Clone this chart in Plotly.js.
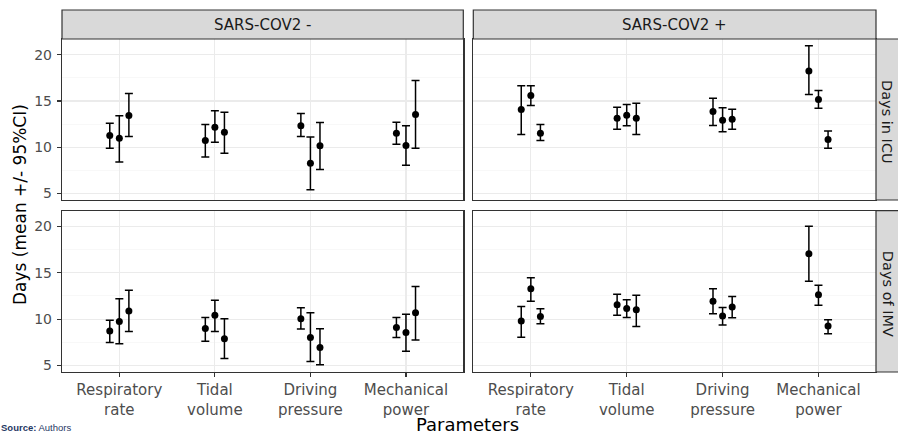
<!DOCTYPE html>
<html><head><meta charset="utf-8">
<script src="https://cdn.plot.ly/plotly-3.0.1.min.js"></script>
<style>html,body{margin:0;padding:0;background:#fff;}#chart{width:898px;height:434px;}</style>
</head><body><div id="chart"></div>
<script>
// ---- data ----
const categories = ["Respiratory rate", "Tidal volume", "Driving pressure", "Mechanical power"];
const tickLabels = ["Respiratory<br>rate", "Tidal<br>volume", "Driving<br>pressure", "Mechanical<br>power"];
const columnLabels = ["SARS-COV2 -", "SARS-COV2 +"];
const rowLabels = ["Days in ICU", "Days of IMV"];
const yTicks = [5, 10, 15, 20];

// each row = one category, each entry = one of the three dodged groups
const icuNegMean  = [[11.27, 10.98, 13.43], [10.72, 12.16, 11.62], [12.32, 8.27, 10.15], [11.52, 10.18, 13.54]];
const icuNegLower = [[9.90, 8.42, 11.16], [8.96, 10.54, 9.35], [11.16, 5.42, 7.59], [10.33, 8.05, 9.89]];
const icuNegUpper = [[12.60, 13.40, 15.81], [12.46, 13.94, 13.79], [13.65, 11.12, 12.67], [12.71, 12.32, 17.22]];

const icuPosMean  = [[14.07, 15.60, 11.52], [13.14, 13.46, 13.14], [13.86, 12.92, 13.03], [18.23, 15.16, 10.83]];
const icuPosLower = [[11.37, 14.51, 10.72], [11.95, 12.32, 11.37], [12.35, 11.67, 11.95], [15.70, 14.22, 9.89]];
const icuPosUpper = [[16.64, 16.64, 12.46], [14.33, 14.62, 14.76], [15.30, 14.26, 14.11], [20.97, 16.14, 11.77]];

const imvNegMean  = [[8.71, 9.75, 10.87], [9.00, 10.43, 7.88], [10.04, 8.03, 6.95], [9.10, 8.57, 10.69]];
const imvNegLower = [[7.49, 7.35, 8.67], [7.63, 8.67, 5.76], [8.93, 5.44, 5.08], [8.03, 6.55, 7.74]];
const imvNegUpper = [[9.89, 12.20, 13.13], [10.18, 12.05, 10.04], [11.23, 10.69, 8.96], [10.18, 10.54, 13.53]];

const imvPosMean  = [[9.79, 13.28, 10.29], [11.55, 11.15, 11.01], [11.94, 10.33, 11.30], [17.05, 12.63, 9.25]];
const imvPosLower = [[8.06, 11.94, 9.50], [10.43, 10.18, 9.21], [10.58, 9.36, 10.15], [14.10, 11.51, 8.42]];
const imvPosUpper = [[11.37, 14.47, 11.12], [12.70, 12.09, 12.59], [13.28, 11.26, 12.45], [20.03, 13.67, 9.94]];

// ---- layout helpers ----
const W = 898, H = 434;
const px = v => v / W;
const py = v => 1 - v / H;
const colX = [[62, 463.3], [473.3, 876]];
const rowY = [[39, 200], [210.7, 372]];
const dodge = [-0.1, 0, 0.1];
const FONT = "DejaVu Sans";

const panels = [
  {row: 0, col: 0, mean: icuNegMean, lo: icuNegLower, hi: icuNegUpper},
  {row: 0, col: 1, mean: icuPosMean, lo: icuPosLower, hi: icuPosUpper},
  {row: 1, col: 0, mean: imvNegMean, lo: imvNegLower, hi: imvNegUpper},
  {row: 1, col: 1, mean: imvPosMean, lo: imvPosLower, hi: imvPosUpper}
];

const traces = [];
const layout = {
  width: W, height: H, autosize: false,
  margin: {l: 0, r: 0, t: 0, b: 0},
  paper_bgcolor: "#fff", plot_bgcolor: "#fff",
  showlegend: false,
  font: {family: FONT},
  shapes: [], annotations: []
};

panels.forEach((p, k) => {
  const n = k + 1;
  const xa = n === 1 ? "x" : "x" + n;
  const ya = n === 1 ? "y" : "y" + n;
  for (let g = 0; g < 3; g++) {
    traces.push({
      type: "scatter", mode: "markers",
      x: categories.map((c, i) => i + 1 + dodge[g]),
      y: p.mean.map(r => r[g]),
      error_y: {
        type: "data", symmetric: false,
        array: p.mean.map((r, i) => p.hi[i][g] - r[g]),
        arrayminus: p.mean.map((r, i) => r[g] - p.lo[i][g]),
        color: "#000", thickness: 1.5, width: 4
      },
      marker: {color: "#000", size: 7},
      xaxis: xa, yaxis: ya, hoverinfo: "skip", showlegend: false
    });
  }
  const bottom = p.row === 1, left = p.col === 0;
  layout["xaxis" + (n === 1 ? "" : n)] = {
    domain: [px(colX[p.col][0]), px(colX[p.col][1])],
    anchor: ya, range: [0.4, 4.6],
    tickmode: "array", tickvals: categories.map((c, i) => i + 1), ticktext: tickLabels,
    showticklabels: bottom, ticks: bottom ? "outside" : "", ticklen: 4, tickwidth: 1.1, tickcolor: "#333",
    tickfont: {family: FONT, size: 15, color: "#4D4D4D"},
    showgrid: true, gridcolor: "#EBEBEB", gridwidth: 1.1, zeroline: false,
    showline: true, mirror: true, linecolor: "#333", linewidth: 1.2, fixedrange: true
  };
  layout["yaxis" + (n === 1 ? "" : n)] = {
    domain: [py(rowY[p.row][1]), py(rowY[p.row][0])],
    anchor: xa, range: [4.3, 21.7],
    tickmode: "array", tickvals: yTicks,
    minor: {tickmode: "linear", tick0: 2.5, dtick: 2.5, showgrid: true, gridcolor: "#F3F3F3", gridwidth: 0.6, ticks: ""},
    showticklabels: left, ticks: left ? "outside" : "", ticklen: 4, tickwidth: 1.1, tickcolor: "#333",
    ticklabelstandoff: 2,
    tickfont: {family: FONT, size: 14, color: "#4D4D4D"},
    showgrid: true, gridcolor: "#EBEBEB", gridwidth: 1.1, zeroline: false,
    showline: true, mirror: true, linecolor: "#333", linewidth: 1.2, fixedrange: true
  };
});

// facet strips
columnLabels.forEach((lab, c) => {
  layout.shapes.push({type: "rect", xref: "paper", yref: "paper",
    x0: px(colX[c][0]), x1: px(colX[c][1]), y0: py(39), y1: py(10),
    fillcolor: "#D9D9D9", line: {color: "#333", width: 1.2}});
  layout.annotations.push({xref: "paper", yref: "paper", x: px((colX[c][0] + colX[c][1]) / 2), y: py(25.5),
    text: lab, showarrow: false, xanchor: "center", yanchor: "middle",
    font: {family: FONT, size: 15, color: "#1A1A1A"}});
});
rowLabels.forEach((lab, r) => {
  layout.shapes.push({type: "rect", xref: "paper", yref: "paper",
    x0: px(876), x1: px(902), y0: py(rowY[r][1]), y1: py(rowY[r][0]),
    fillcolor: "#D9D9D9", line: {color: "#333", width: 1.2}});
  layout.annotations.push({xref: "paper", yref: "paper", x: px(887.5), y: py((rowY[r][0] + rowY[r][1]) / 2 + 2),
    text: lab, showarrow: false, textangle: 90, xanchor: "center", yanchor: "middle",
    font: {family: FONT, size: 14.5, color: "#1A1A1A"}});
});

// axis titles
layout.annotations.push({xref: "paper", yref: "paper", x: px(20), y: py(205),
  text: "Days (mean +/- 95%CI)", showarrow: false, textangle: -90, xanchor: "center", yanchor: "middle",
  font: {family: FONT, size: 17, color: "#000"}});
layout.annotations.push({xref: "paper", yref: "paper", x: px(467), y: py(424),
  text: "Parameters", showarrow: false, xanchor: "center", yanchor: "middle",
  font: {family: FONT, size: 18, color: "#000"}});
// source line at the bottom edge (kept small so it fits)
layout.annotations.push({xref: "paper", yref: "paper", x: 0, y: py(433.5),
  text: "<b>Source:</b> Authors", showarrow: false, xanchor: "left", yanchor: "bottom",
  borderpad: 0, font: {family: "Liberation Sans", size: 9.5, color: "#1F3864"}});

Plotly.newPlot("chart", traces, layout, {staticPlot: true, displayModeBar: false});
</script>
</body></html>
